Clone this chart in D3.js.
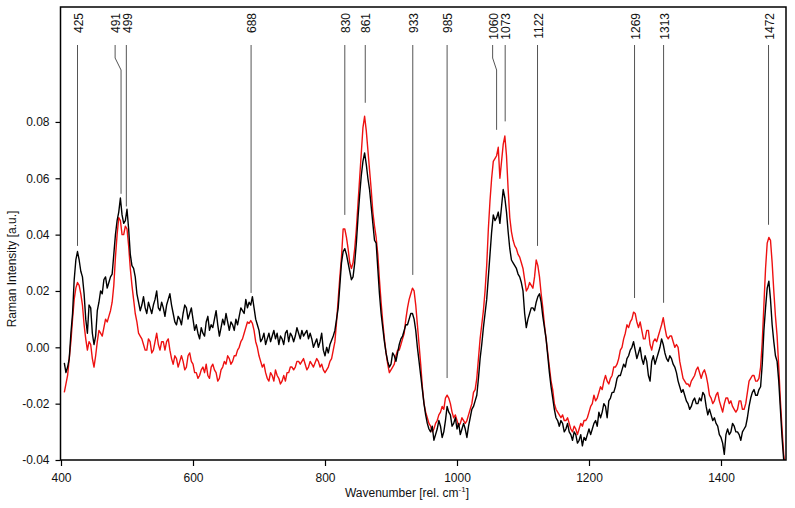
<!DOCTYPE html>
<html><head><meta charset="utf-8">
<script src="https://cdn.jsdelivr.net/npm/d3@7"></script>
<style>body{margin:0;background:#fff}svg{display:block}text{font-family:"Liberation Sans",Arial,sans-serif}</style>
</head><body><svg id="c" width="795" height="508"></svg>
<script>
const wnStart = 405, wnStep = 2.5;
const blackSpectrum = [
-0.0055,-0.0090,-0.0070,-0.0040,0.0050,0.0120,0.0240,0.0310,0.0340,0.0310,0.0270,0.0250,0.0190,0.0100,0.0050,0.0150,0.0140,0.0050,0.0010,0.0040,
0.0130,0.0160,0.0200,0.0190,0.0240,0.0250,0.0210,0.0230,0.0250,0.0260,0.0330,0.0400,0.0450,0.0480,0.0530,0.0470,0.0440,0.0450,0.0490,0.0420,
0.0330,0.0290,0.0280,0.0250,0.0190,0.0160,0.0130,0.0150,0.0180,0.0140,0.0120,0.0160,0.0140,0.0120,0.0150,0.0170,0.0200,0.0140,0.0130,0.0160,
0.0140,0.0110,0.0150,0.0170,0.0190,0.0150,0.0120,0.0090,0.0080,0.0110,0.0100,0.0080,0.0120,0.0150,0.0140,0.0100,0.0120,0.0140,0.0100,0.0060,
0.0080,0.0050,0.0030,0.0070,0.0050,0.0040,0.0090,0.0110,0.0060,0.0080,0.0070,0.0100,0.0130,0.0080,0.0040,0.0070,0.0100,0.0080,0.0120,0.0090,
0.0060,0.0090,0.0080,0.0060,0.0100,0.0080,0.0110,0.0140,0.0130,0.0120,0.0170,0.0140,0.0160,0.0150,0.0180,0.0140,0.0100,0.0080,0.0060,0.0020,
0.0030,0.0050,0.0010,0.0030,0.0050,0.0020,0.0040,0.0060,0.0030,0.0050,0.0010,0.0040,0.0030,0.0010,0.0050,0.0060,0.0020,0.0050,0.0040,0.0020,
0.0040,0.0070,0.0050,0.0030,0.0060,0.0040,0.0050,0.0060,0.0030,0.0050,0.0030,0.0000,0.0015,0.0030,0.0000,0.0020,0.0050,-0.0010,-0.0030,0.0000,
-0.0020,0.0010,0.0025,0.0040,0.0060,0.0100,0.0140,0.0220,0.0300,0.0340,0.0350,0.0330,0.0300,0.0270,0.0240,0.0250,0.0300,0.0370,0.0460,0.0540,
0.0610,0.0660,0.0690,0.0650,0.0600,0.0560,0.0500,0.0440,0.0380,0.0370,0.0280,0.0190,0.0120,0.0070,0.0020,-0.0020,-0.0050,-0.0070,-0.0060,-0.0020,
-0.0030,-0.0050,-0.0020,0.0010,0.0030,0.0040,0.0060,0.0080,0.0080,0.0100,0.0120,0.0120,0.0100,0.0060,0.0000,-0.0050,-0.0100,-0.0150,-0.0200,-0.0240,
-0.0270,-0.0290,-0.0300,-0.0280,-0.0330,-0.0310,-0.0290,-0.0260,-0.0280,-0.0320,-0.0300,-0.0260,-0.0210,-0.0230,-0.0240,-0.0280,-0.0270,-0.0250,-0.0290,-0.0270,
-0.0310,-0.0290,-0.0270,-0.0290,-0.0320,-0.0280,-0.0250,-0.0220,-0.0210,-0.0190,-0.0170,-0.0110,-0.0040,0.0010,0.0070,0.0120,0.0170,0.0250,0.0330,0.0410,
0.0470,0.0450,0.0460,0.0480,0.0440,0.0500,0.0560,0.0530,0.0480,0.0410,0.0350,0.0310,0.0300,0.0290,0.0280,0.0260,0.0250,0.0230,0.0200,0.0120,
0.0070,0.0100,0.0120,0.0140,0.0140,0.0130,0.0160,0.0180,0.0190,0.0160,0.0110,0.0070,0.0030,-0.0030,-0.0090,-0.0140,-0.0180,-0.0220,-0.0250,-0.0260,
-0.0280,-0.0260,-0.0270,-0.0300,-0.0290,-0.0270,-0.0300,-0.0310,-0.0330,-0.0300,-0.0310,-0.0340,-0.0330,-0.0310,-0.0350,-0.0320,-0.0330,-0.0310,-0.0290,-0.0310,
-0.0290,-0.0270,-0.0260,-0.0280,-0.0230,-0.0250,-0.0230,-0.0200,-0.0210,-0.0250,-0.0190,-0.0180,-0.0160,-0.0160,-0.0140,-0.0110,-0.0100,-0.0100,-0.0080,-0.0060,
-0.0070,-0.0040,-0.0030,-0.0010,0.0000,0.0020,-0.0010,-0.0040,-0.0020,0.0000,-0.0040,-0.0060,-0.0030,-0.0050,-0.0100,-0.0120,-0.0050,-0.0030,-0.0060,-0.0040,
-0.0020,0.0000,0.0030,0.0010,-0.0020,-0.0040,-0.0050,-0.0030,-0.0040,-0.0060,-0.0070,-0.0090,-0.0120,-0.0140,-0.0160,-0.0150,-0.0170,-0.0190,-0.0200,-0.0220,
-0.0210,-0.0190,-0.0180,-0.0200,-0.0200,-0.0180,-0.0190,-0.0160,-0.0170,-0.0210,-0.0240,-0.0220,-0.0240,-0.0260,-0.0250,-0.0270,-0.0280,-0.0310,-0.0320,-0.0340,
-0.0380,-0.0310,-0.0290,-0.0310,-0.0300,-0.0270,-0.0280,-0.0300,-0.0300,-0.0310,-0.0330,-0.0300,-0.0290,-0.0280,-0.0250,-0.0210,-0.0180,-0.0160,-0.0150,-0.0170,
-0.0170,-0.0150,-0.0140,-0.0060,0.0060,0.0140,0.0210,0.0235,0.0170,0.0080,0.0020,-0.0030,-0.0050,-0.0120,-0.0220,-0.0320,-0.0400,-0.0440,-0.0460
];
const redSpectrum = [
-0.0160,-0.0130,-0.0100,-0.0040,0.0020,0.0100,0.0170,0.0210,0.0230,0.0220,0.0190,0.0150,0.0080,0.0030,-0.0010,0.0020,0.0010,-0.0040,-0.0070,-0.0030,
0.0020,0.0060,0.0050,0.0040,0.0070,0.0100,0.0090,0.0110,0.0130,0.0160,0.0220,0.0320,0.0400,0.0460,0.0450,0.0400,0.0400,0.0430,0.0420,0.0360,
0.0280,0.0220,0.0170,0.0120,0.0090,0.0050,0.0040,0.0030,0.0010,-0.0010,-0.0010,0.0030,0.0020,-0.0020,-0.0010,0.0020,0.0050,0.0010,-0.0010,0.0020,
0.0020,-0.0010,0.0020,0.0030,-0.0010,-0.0040,-0.0060,-0.0030,-0.0040,-0.0070,-0.0050,-0.0030,-0.0050,-0.0080,-0.0070,-0.0030,-0.0020,-0.0050,-0.0060,-0.0090,
-0.0090,-0.0110,-0.0100,-0.0080,-0.0070,-0.0090,-0.0060,-0.0100,-0.0110,-0.0070,-0.0060,-0.0080,-0.0090,-0.0120,-0.0110,-0.0080,-0.0070,-0.0050,-0.0060,-0.0030,
-0.0040,-0.0060,-0.0050,-0.0030,-0.0030,-0.0010,0.0000,0.0020,0.0030,0.0050,0.0070,0.0090,0.0085,0.0095,0.0085,0.0060,0.0020,0.0000,-0.0030,-0.0050,
-0.0070,-0.0060,-0.0090,-0.0110,-0.0120,-0.0090,-0.0100,-0.0120,-0.0080,-0.0100,-0.0110,-0.0130,-0.0120,-0.0100,-0.0120,-0.0090,-0.0090,-0.0070,-0.0070,-0.0080,
-0.0070,-0.0050,-0.0050,-0.0060,-0.0050,-0.0040,-0.0060,-0.0080,-0.0070,-0.0050,-0.0060,-0.0070,-0.0055,-0.0040,-0.0050,-0.0070,-0.0060,-0.0080,-0.0090,-0.0080,
-0.0070,-0.0050,-0.0040,-0.0010,0.0020,0.0090,0.0170,0.0250,0.0320,0.0420,0.0420,0.0390,0.0350,0.0300,0.0280,0.0300,0.0350,0.0420,0.0510,0.0600,
0.0690,0.0780,0.0820,0.0770,0.0700,0.0630,0.0560,0.0480,0.0430,0.0390,0.0330,0.0240,0.0160,0.0090,0.0030,-0.0020,-0.0060,-0.0090,-0.0080,-0.0070,
-0.0060,-0.0030,-0.0010,-0.0010,0.0010,0.0030,0.0050,0.0100,0.0140,0.0170,0.0190,0.0210,0.0200,0.0150,0.0080,0.0010,-0.0060,-0.0140,-0.0200,-0.0230,
-0.0250,-0.0270,-0.0280,-0.0300,-0.0290,-0.0270,-0.0260,-0.0240,-0.0230,-0.0210,-0.0220,-0.0180,-0.0170,-0.0180,-0.0200,-0.0230,-0.0250,-0.0240,-0.0260,-0.0280,
-0.0270,-0.0250,-0.0260,-0.0270,-0.0260,-0.0240,-0.0220,-0.0200,-0.0160,-0.0150,-0.0110,-0.0040,0.0030,0.0080,0.0130,0.0200,0.0290,0.0420,0.0520,0.0600,
0.0660,0.0670,0.0680,0.0710,0.0600,0.0660,0.0720,0.0750,0.0680,0.0560,0.0460,0.0410,0.0380,0.0360,0.0350,0.0330,0.0320,0.0300,0.0280,0.0240,
0.0200,0.0210,0.0230,0.0220,0.0210,0.0250,0.0310,0.0290,0.0250,0.0190,0.0140,0.0080,0.0030,-0.0020,-0.0070,-0.0120,-0.0150,-0.0200,-0.0220,-0.0230,
-0.0240,-0.0250,-0.0240,-0.0260,-0.0260,-0.0250,-0.0270,-0.0290,-0.0300,-0.0280,-0.0290,-0.0310,-0.0290,-0.0270,-0.0280,-0.0260,-0.0260,-0.0250,-0.0230,-0.0210,
-0.0200,-0.0170,-0.0190,-0.0180,-0.0160,-0.0140,-0.0150,-0.0120,-0.0100,-0.0120,-0.0130,-0.0110,-0.0100,-0.0070,-0.0070,-0.0060,-0.0040,-0.0010,0.0000,0.0030,
0.0050,0.0080,0.0070,0.0090,0.0100,0.0125,0.0120,0.0090,0.0070,0.0090,0.0060,0.0030,0.0030,0.0060,0.0060,0.0010,-0.0010,0.0020,0.0030,0.0020,
0.0040,0.0060,0.0080,0.0105,0.0070,0.0040,0.0030,0.0040,0.0040,0.0020,0.0000,0.0010,0.0000,-0.0050,-0.0080,-0.0110,-0.0120,-0.0130,-0.0130,-0.0140,
-0.0120,-0.0110,-0.0100,-0.0080,-0.0070,-0.0090,-0.0110,-0.0090,-0.0080,-0.0100,-0.0130,-0.0170,-0.0180,-0.0200,-0.0190,-0.0170,-0.0160,-0.0190,-0.0210,-0.0230,
-0.0200,-0.0180,-0.0180,-0.0200,-0.0190,-0.0210,-0.0220,-0.0230,-0.0220,-0.0190,-0.0190,-0.0220,-0.0220,-0.0200,-0.0160,-0.0120,-0.0110,-0.0100,-0.0100,-0.0120,
-0.0120,-0.0110,-0.0070,0.0020,0.0150,0.0280,0.0370,0.0390,0.0380,0.0300,0.0200,0.0110,0.0040,-0.0070,-0.0190,-0.0290,-0.0380,-0.0430,-0.0460
];
const peakLabels = ["425","491","499","688","830","861","933","985","1060","1073","1122","1269","1313","1472"];
const peakPositions = [425,491,499,688,830,861,933,985,1060,1073,1122,1269,1313,1472];
const peakLabelPositions = [425,482,499,688,830,861,933,985,1054,1073,1122,1269,1313,1472];
const peakLineEnds = [0.0360,0.0545,0.0500,0.0193,0.0470,0.0868,0.0257,-0.0109,0.0772,0.0802,0.0360,0.0175,0.0158,0.0435];
const xTicks = [400,600,800,1000,1200,1400];
const yTicks = [-0.04,-0.02,0.00,0.02,0.04,0.06,0.08];

const wavenumbers = blackSpectrum.map((_, i) => wnStart + i * wnStep);
const svg = d3.select("#c");
const L = 60.5, R = 786, T = 7, B = 460;
const x = d3.scaleLinear().domain([400, 1500]).range([61, 787]);
const y = d3.scaleLinear().domain([-0.04, 0.1208]).range([B, T]);

svg.append("defs").append("clipPath").attr("id","clip")
  .append("rect").attr("x", L).attr("y", T).attr("width", R - L).attr("height", B - T);

// peak marker lines
const lineG = svg.append("g").attr("stroke", "#555").attr("stroke-width", 1).attr("fill", "none");
peakPositions.forEach((p, i) => {
  const xl = x(peakLabelPositions[i]), xp = x(p);
  let d;
  if (Math.abs(xl - xp) > 0.5) d = `M${xl},45V58L${xp},70V${y(peakLineEnds[i])}`;
  else d = `M${xp},45V${y(peakLineEnds[i])}`;
  lineG.append("path").attr("d", d);
});
svg.append("g").selectAll("text").data(peakLabels).join("text")
  .attr("transform", (d, i) => `translate(${x(peakLabelPositions[i]) + 1},13) rotate(-90)`)
  .attr("text-anchor", "end").attr("dy", "0.35em").attr("font-size", 12).attr("fill", "#111")
  .text(d => d);

const line = d3.line().x((d, i) => x(wnStart + i * wnStep)).y(d => y(d));
const plot = svg.append("g").attr("clip-path", "url(#clip)");
plot.append("path").datum(redSpectrum).attr("d", line).attr("fill", "none")
  .attr("stroke", "#ee1111").attr("stroke-width", 1.4).attr("stroke-linejoin", "round");
plot.append("path").datum(blackSpectrum).attr("d", line).attr("fill", "none")
  .attr("stroke", "#000").attr("stroke-width", 1.4).attr("stroke-linejoin", "round");

// axes
const xAxis = svg.append("g").attr("transform", `translate(0,${B})`)
  .call(d3.axisBottom(x).tickValues(xTicks).tickSize(6).tickPadding(7).tickFormat(d => String(d)));
const yAxis = svg.append("g").attr("transform", `translate(${L},0)`)
  .call(d3.axisLeft(y).tickValues(yTicks).tickSize(5).tickPadding(6).tickFormat(d => d.toFixed(2)));
[xAxis, yAxis].forEach(g => {
  g.select(".domain").remove();
  g.selectAll("text").attr("font-size", 12).attr("fill", "#111").attr("font-family", '"Liberation Sans",Arial,sans-serif');
  g.selectAll("line").attr("stroke", "#000").attr("stroke-width", 1.2);
});
// frame
svg.append("path").attr("d", `M${L},${T}H${R}V${B}H${L}Z`).attr("fill", "none")
  .attr("stroke", "#000").attr("stroke-width", 1.5);

// titles
const xt = svg.append("text").attr("x", 407).attr("y", 497).attr("text-anchor", "middle")
  .attr("font-size", 12).attr("fill", "#111");
xt.append("tspan").text("Wavenumber [rel. cm");
xt.append("tspan").attr("font-size", 8).attr("dy", -5).text("-1");
xt.append("tspan").attr("dy", 5).text("]");
svg.append("text").attr("transform", "translate(16,269) rotate(-90)").attr("text-anchor", "middle")
  .attr("font-size", 12).attr("fill", "#111").text("Raman Intensity [a.u.]");
if (blackSpectrum.length !== 439 || redSpectrum.length !== 439)
  svg.append("text").attr("x", 300).attr("y", 30).attr("fill", "blue").text("LEN " + blackSpectrum.length + " " + redSpectrum.length);
</script></body></html>
